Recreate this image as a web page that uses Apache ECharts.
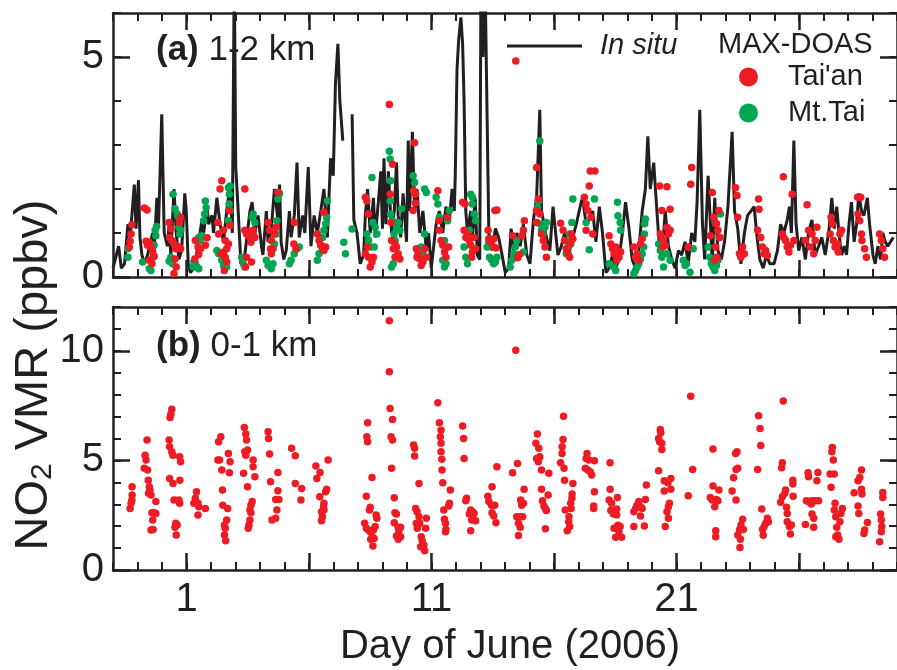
<!DOCTYPE html>
<html><head><meta charset="utf-8">
<script src="https://cdn.jsdelivr.net/npm/echarts@6/dist/echarts.min.js"></script>
<style>html,body{margin:0;padding:0;background:#fff}#c{width:897px;height:670px}</style>
</head><body><div id="c"></div><script>
// ---- tick labels / categories ----
const xTickLabels = [1, 11, 21];
const xMajorTicks = [1, 6, 11, 16, 21, 26];
const yTicksA = [0, 5];
const yTicksB = [0, 5, 10];

// ---- In situ NO2 (panel a), [day of June, ppbv] ----
const inSitu = [[-2.00,0.2],[-1.77,0.7],[-1.66,0.2],[-1.53,0.3],[-1.39,1.2],[-1.30,0.9],[-1.13,2.1],[-1.06,1.1],[-0.96,2.2],[-0.90,0.9],[-0.82,0.5],[-0.72,0.3],[-0.59,0.5],[-0.38,1.0],[-0.32,0.6],[-0.21,1.8],[-0.14,1.2],[-0.01,3.7],[0.09,1.0],[0.22,0.7],[0.29,1.2],[0.36,0.5],[0.49,2.0],[0.58,1.0],[0.69,0.4],[0.80,0.6],[0.93,1.9],[0.99,1.5],[1.07,0.3],[1.16,0.1],[1.30,0.2],[1.50,0.8],[1.63,1.3],[1.70,1.0],[1.84,1.6],[1.90,1.2],[2.04,1.4],[2.10,1.0],[2.24,1.8],[2.37,1.2],[2.51,0.8],[2.64,1.5],[2.78,2.1],[2.87,1.0],[2.95,7.0],[3.01,2.5],[3.11,1.5],[3.22,0.3],[3.38,0.5],[3.59,1.5],[3.68,1.7],[3.79,1.0],[3.92,1.4],[4.06,0.7],[4.12,0.5],[4.26,1.5],[4.33,0.8],[4.46,1.1],[4.59,2.0],[4.73,1.3],[4.80,2.1],[4.86,0.8],[4.97,0.4],[5.07,0.6],[5.20,1.5],[5.27,0.9],[5.40,1.4],[5.51,2.6],[5.60,0.9],[5.74,1.4],[5.83,1.0],[5.97,2.5],[6.08,0.7],[6.21,1.4],[6.34,1.0],[6.48,1.5],[6.61,2.0],[6.75,0.9],[6.88,2.7],[6.99,2.3],[7.08,4.4],[7.18,5.3],[7.26,4.0],[7.38,3.1],[7.5,'-'],[7.76,3.7],[7.83,1.3],[7.96,1.0],[8.09,0.3],[8.23,0.5],[8.30,1.4],[8.39,2.0],[8.50,1.0],[8.63,1.8],[8.70,0.9],[8.83,1.7],[8.93,2.4],[9.00,1.1],[9.06,2.7],[9.14,1.2],[9.24,2.4],[9.37,1.0],[9.48,1.5],[9.57,2.6],[9.64,1.4],[9.74,0.9],[9.84,1.9],[9.98,0.8],[10.05,3.1],[10.11,1.5],[10.22,3.3],[10.31,1.5],[10.41,2.0],[10.52,1.0],[10.65,1.5],[10.79,0.6],[10.88,1.0],[10.99,0.2],[11.06,0.2],[11.19,1.2],[11.32,1.5],[11.46,1.0],[11.59,1.6],[11.73,1.3],[11.84,2.0],[11.93,1.5],[11.97,2.3],[12.04,4.7],[12.11,5.4],[12.20,5.9],[12.27,5.3],[12.33,4.0],[12.40,1.5],[12.47,1.0],[12.60,1.5],[12.67,0.9],[12.78,1.8],[12.87,0.5],[12.97,0.4],[13.02,7.0],[13.10,5.0],[13.18,7.0],[13.34,1.0],[13.47,0.6],[13.61,1.1],[13.74,0.9],[13.88,0.5],[14.01,0.1],[14.15,0.2],[14.25,1.1],[14.35,0.6],[14.48,1.0],[14.62,0.7],[14.75,1.2],[14.89,0.5],[15.02,0.3],[15.16,1.3],[15.29,1.8],[15.42,3.8],[15.49,1.5],[15.56,1.3],[15.69,0.9],[15.83,0.6],[15.96,1.6],[16.03,1.2],[16.16,0.5],[16.30,0.7],[16.43,1.0],[16.64,0.6],[16.77,0.9],[16.91,1.2],[17.11,1.7],[17.17,1.8],[17.31,1.2],[17.44,1.3],[17.58,1.5],[17.71,0.8],[17.85,1.6],[17.98,1.0],[18.12,0.1],[18.25,0.2],[18.39,0.5],[18.52,0.2],[18.65,0.4],[18.79,1.0],[18.92,1.7],[19.06,1.1],[19.19,0.4],[19.33,0.2],[19.46,0.6],[19.60,1.5],[19.73,2.0],[19.83,3.2],[19.93,2.0],[20.07,2.6],[20.20,1.5],[20.31,0.6],[20.40,0.4],[20.54,1.5],[20.67,0.7],[20.81,0.4],[20.94,0.2],[21.08,0.6],[21.21,0.5],[21.35,0.8],[21.48,0.3],[21.62,1.0],[21.75,0.8],[21.84,1.7],[21.95,3.8],[22.06,1.2],[22.15,0.4],[22.29,2.3],[22.36,1.5],[22.46,0.3],[22.56,1.8],[22.69,0.6],[22.83,0.4],[22.96,0.8],[23.10,1.6],[23.27,3.3],[23.37,1.5],[23.50,1.1],[23.63,0.3],[23.77,1.0],[23.90,1.4],[24.04,1.5],[24.17,1.6],[24.27,1.0],[24.40,0.4],[24.54,0.2],[24.67,0.5],[24.81,0.3],[24.98,0.3],[25.12,0.6],[25.25,1.2],[25.38,1.0],[25.52,1.3],[25.61,1.6],[25.69,1.0],[25.79,3.1],[25.88,1.2],[25.99,0.6],[26.12,0.9],[26.26,0.4],[26.39,1.0],[26.53,1.3],[26.66,0.5],[26.80,0.7],[26.93,0.9],[27.07,0.5],[27.23,1.1],[27.34,1.8],[27.44,1.1],[27.54,1.6],[27.63,1.0],[27.74,0.5],[27.85,0.7],[27.94,0.5],[28.04,1.2],[28.14,1.7],[28.25,0.8],[28.35,1.2],[28.44,1.9],[28.55,1.5],[28.65,1.4],[28.79,1.8],[28.88,1.2],[29.02,0.5],[29.11,0.3],[29.22,0.7],[29.33,0.4],[29.42,1.0],[29.52,0.8],[29.62,0.7],[29.85,0.9]];

// ---- MAX-DOAS Tai'an, 1-2 km (panel a) ----
const taianA = [[-1.23,1.19],[-1.26,0.98],[-1.30,0.81],[-1.33,0.68],[-0.72,1.57],[-0.61,1.52],[-0.65,0.81],[-0.52,0.79],[-0.59,0.72],[-0.45,0.68],[-0.38,0.57],[-0.32,0.47],[-0.52,0.38],[-0.41,0.30],[-0.36,0.45],[0.29,1.24],[0.36,1.09],[0.31,0.90],[0.40,0.83],[0.49,0.75],[0.56,0.64],[0.69,0.68],[0.76,0.64],[0.72,1.24],[0.76,1.36],[0.53,0.41],[0.58,0.23],[0.49,0.08],[1.36,0.83],[1.47,0.68],[1.57,0.64],[1.50,0.51],[1.34,0.41],[1.77,0.72],[1.84,0.89],[2.28,1.24],[2.37,2.00],[2.44,2.19],[2.51,1.06],[2.58,0.83],[2.64,0.64],[2.51,0.57],[2.58,0.45],[2.64,0.34],[2.71,0.75],[2.78,1.17],[2.74,1.51],[2.41,0.53],[2.31,0.98],[2.54,0.15],[3.38,2.00],[3.38,1.06],[3.45,0.98],[3.52,1.02],[3.59,0.90],[3.65,0.98],[3.72,1.06],[3.79,0.90],[3.63,0.79],[3.45,0.45],[3.65,0.34],[3.41,0.23],[4.33,1.24],[4.39,1.06],[4.46,0.83],[4.53,0.64],[4.59,0.98],[4.66,1.13],[4.73,1.92],[4.43,0.64],[4.46,0.53],[5.40,1.24],[5.47,0.64],[5.38,0.75],[6.34,0.98],[6.41,0.83],[6.48,0.72],[6.55,0.64],[6.61,1.47],[6.68,0.68],[6.61,0.60],[8.30,1.81],[8.36,1.73],[8.43,1.43],[8.30,0.53],[8.43,0.45],[8.57,0.41],[8.63,0.45],[8.50,0.23],[8.39,0.68],[8.57,0.34],[9.28,3.92],[9.41,2.56],[9.31,1.88],[9.35,1.24],[9.37,0.83],[9.44,0.64],[9.51,0.45],[9.57,0.68],[9.64,0.53],[9.71,0.41],[9.51,0.75],[10.31,3.05],[10.27,1.96],[10.35,1.88],[10.35,1.68],[10.25,1.51],[10.38,0.64],[10.45,0.53],[10.52,0.41],[10.58,0.26],[10.65,0.34],[10.72,0.64],[10.79,0.45],[10.41,0.45],[11.26,1.96],[11.30,1.28],[11.32,1.06],[11.39,0.83],[11.46,0.72],[11.53,0.57],[11.59,0.45],[11.66,1.36],[11.70,0.68],[12.27,1.70],[12.37,1.66],[12.33,1.06],[12.40,0.90],[12.47,0.98],[12.54,0.83],[12.60,0.72],[12.67,0.57],[12.74,0.90],[12.64,0.45],[12.80,0.64],[13.59,1.51],[13.55,0.87],[14.44,4.91],[13.31,1.06],[13.34,0.87],[13.41,0.79],[13.54,0.68],[13.63,0.66],[13.67,1.52],[14.31,0.94],[14.52,0.44],[14.59,0.51],[14.68,0.94],[14.75,1.06],[14.79,1.28],[15.29,2.49],[15.29,1.51],[15.36,1.77],[15.42,1.43],[15.49,0.98],[15.56,0.83],[15.63,0.68],[15.69,0.45],[15.29,1.24],[16.27,1.22],[16.37,1.06],[16.43,0.83],[16.50,0.64],[16.57,0.53],[16.64,0.45],[16.70,0.98],[16.77,0.87],[16.68,0.75],[17.24,1.81],[17.31,1.66],[17.38,1.51],[17.44,2.07],[17.48,2.41],[17.51,1.36],[17.58,0.98],[17.67,2.41],[17.31,1.06],[18.25,0.94],[18.32,0.75],[18.39,0.64],[18.45,0.53],[18.52,0.68],[18.59,0.60],[18.65,0.45],[18.72,0.57],[18.56,0.38],[19.26,0.68],[19.33,0.45],[19.39,0.53],[19.46,0.38],[19.53,0.75],[19.60,0.87],[20.31,2.07],[20.61,2.05],[20.40,1.51],[20.74,1.54],[20.34,0.98],[20.40,0.90],[20.47,0.83],[20.54,0.72],[20.61,1.13],[20.67,0.98],[20.74,1.06],[20.44,0.68],[21.62,2.49],[21.58,2.11],[21.48,0.68],[22.38,0.94],[22.46,1.92],[22.52,1.36],[22.63,1.21],[22.69,1.06],[22.76,0.90],[22.60,0.68],[22.65,0.45],[22.73,1.51],[22.56,0.38],[23.41,2.03],[23.47,1.85],[23.50,1.36],[23.57,0.53],[23.63,0.45],[23.70,0.68],[23.77,0.53],[24.35,1.77],[24.37,1.54],[24.31,1.06],[24.44,0.90],[24.51,0.68],[24.58,0.53],[24.64,0.60],[24.71,0.49],[25.36,2.28],[25.72,1.88],[25.32,0.98],[25.38,0.90],[25.45,0.83],[25.52,0.68],[25.59,0.57],[25.65,0.72],[25.79,0.83],[26.33,1.64],[26.26,0.83],[26.39,1.06],[26.46,0.68],[26.53,0.98],[26.60,0.53],[26.66,0.83],[26.73,1.13],[27.31,1.36],[27.36,1.21],[27.27,0.98],[27.40,0.83],[27.47,0.68],[27.60,0.57],[27.67,0.98],[27.74,1.06],[27.58,0.75],[28.39,1.81],[28.52,1.81],[28.41,1.43],[28.48,1.28],[28.55,0.98],[28.68,0.64],[28.75,0.45],[28.57,0.83],[29.29,0.98],[29.36,0.83],[29.42,0.64],[29.49,0.45]];

// ---- MAX-DOAS Mt.Tai, 1-2 km (panel a) ----
const mtTaiA = [[-1.39,0.64],[-1.39,0.45],[-0.79,0.34],[-0.52,0.19],[-0.45,0.15],[-0.32,0.72],[-0.25,0.94],[-0.28,1.06],[-0.22,1.15],[0.45,1.88],[0.53,1.55],[0.62,1.43],[0.66,1.37],[0.36,0.45],[0.29,0.36],[0.43,0.30],[0.72,0.98],[0.76,1.06],[0.69,1.13],[1.27,0.23],[1.36,0.30],[1.43,0.23],[1.50,0.19],[1.50,0.90],[1.57,0.83],[1.63,0.94],[1.70,1.28],[1.74,1.43],[1.77,1.73],[1.80,1.58],[1.30,0.34],[2.24,0.60],[2.31,0.53],[2.44,0.38],[2.51,0.26],[2.64,0.23],[2.71,2.03],[2.78,2.07],[2.75,1.88],[2.74,1.66],[2.71,1.28],[2.78,1.51],[3.25,0.45],[3.32,0.30],[3.38,0.23],[3.68,1.36],[3.72,1.43],[3.79,1.24],[3.72,0.98],[4.26,0.38],[4.33,0.26],[4.46,0.19],[4.53,0.30],[4.59,0.75],[4.66,0.98],[4.69,1.28],[4.73,1.77],[4.80,1.90],[5.20,0.30],[5.27,0.38],[5.40,0.53],[5.51,0.64],[5.60,0.68],[6.34,0.38],[6.41,0.53],[6.48,0.72],[6.55,0.90],[6.61,1.06],[6.68,1.21],[6.72,1.36],[6.75,1.73],[7.42,0.79],[7.49,0.53],[7.76,1.09],[8.36,0.98],[8.43,0.83],[8.50,0.68],[8.57,2.26],[8.61,1.24],[8.70,1.13],[8.77,0.98],[8.66,0.68],[9.28,2.86],[9.31,2.68],[9.33,2.19],[9.31,1.73],[9.33,1.43],[9.41,1.28],[9.47,0.98],[9.51,0.83],[9.37,0.23],[9.44,0.30],[9.57,1.13],[9.64,1.24],[9.71,1.06],[9.78,1.55],[10.25,2.30],[10.31,2.15],[10.72,2.00],[10.79,1.92],[10.72,0.98],[10.58,0.68],[10.65,0.53],[11.19,1.81],[11.26,1.66],[11.32,1.36],[11.53,0.83],[11.66,1.28],[11.73,1.51],[11.46,0.38],[11.53,0.23],[11.59,0.30],[12.33,0.68],[12.40,0.45],[12.47,0.30],[12.54,1.06],[12.60,1.88],[12.67,1.81],[12.67,1.66],[12.74,1.43],[12.80,1.28],[13.27,0.68],[13.37,0.45],[13.45,0.39],[13.54,0.30],[13.61,0.34],[13.67,0.45],[13.34,0.79],[14.21,0.23],[14.28,0.38],[14.35,0.53],[14.42,0.68],[14.48,0.83],[14.75,0.57],[15.42,3.09],[15.36,1.73],[15.33,1.58],[15.42,1.21],[15.49,1.06],[15.56,0.98],[15.63,1.13],[15.69,1.24],[16.77,1.77],[16.73,1.24],[16.64,0.98],[16.70,0.83],[16.57,0.68],[16.50,0.53],[17.65,1.77],[17.31,1.24],[17.44,0.62],[18.59,1.70],[18.61,1.39],[18.70,1.24],[18.72,1.06],[18.25,0.30],[18.52,0.15],[18.45,0.23],[19.26,0.08],[19.33,0.15],[19.39,0.23],[19.46,0.30],[19.53,0.41],[19.60,0.53],[19.66,0.68],[19.69,0.98],[19.70,1.21],[19.73,1.32],[20.27,0.75],[20.34,0.60],[20.40,0.45],[20.47,0.23],[20.61,0.53],[20.74,0.38],[21.28,0.38],[21.35,0.26],[21.41,0.30],[21.55,0.11],[21.68,0.64],[22.29,0.68],[22.36,0.45],[22.42,0.30],[22.49,0.23],[22.56,0.15],[22.63,0.26],[22.69,0.38],[22.79,1.43],[22.76,0.90]];

// ---- MAX-DOAS Tai'an, 0-1 km (panel b) ----
const taianB = [[-1.30,2.81],[-1.26,3.04],[-1.23,3.19],[-1.22,3.42],[-1.22,3.80],[-0.61,5.93],[-0.69,5.24],[-0.65,5.02],[-0.72,4.64],[-0.59,4.56],[-0.56,4.10],[-0.52,3.80],[-0.49,3.65],[-0.55,3.50],[-0.45,3.42],[-0.25,3.12],[-0.41,2.61],[-0.32,2.61],[-0.38,2.28],[-0.25,2.58],[-0.45,1.82],[-0.36,1.85],[0.40,7.33],[0.36,7.11],[0.33,6.96],[0.29,5.93],[0.31,5.62],[0.40,5.40],[0.45,5.24],[0.72,5.17],[0.76,4.94],[0.73,4.10],[0.31,4.18],[0.45,3.95],[0.49,3.19],[0.69,3.19],[0.72,3.04],[0.56,2.13],[0.62,2.05],[0.53,1.95],[0.58,1.60],[1.41,3.57],[1.36,3.27],[1.30,3.04],[1.47,3.04],[1.50,2.89],[1.47,2.51],[1.77,2.81],[2.31,5.85],[2.40,6.08],[2.28,5.02],[2.35,5.02],[2.44,4.56],[2.71,5.32],[2.78,4.94],[2.75,4.44],[2.47,3.65],[2.48,2.96],[2.68,2.81],[2.64,2.28],[2.55,2.05],[2.58,1.90],[2.55,1.60],[2.60,1.34],[3.36,6.50],[3.42,6.20],[3.45,5.93],[3.38,5.40],[3.42,5.24],[3.49,5.47],[3.33,4.41],[3.49,3.80],[3.72,5.02],[3.72,4.71],[3.79,4.26],[3.68,3.12],[3.63,2.96],[3.59,2.74],[3.63,2.61],[3.59,2.28],[3.55,2.05],[3.52,1.90],[4.33,6.31],[4.35,6.00],[4.39,5.29],[4.43,4.03],[4.73,4.45],[4.73,3.62],[4.64,3.22],[4.77,3.22],[4.69,2.74],[4.64,2.36],[4.49,2.28],[5.29,5.55],[5.44,5.21],[5.44,3.95],[5.70,3.72],[5.67,3.19],[6.28,4.74],[6.45,4.45],[6.32,4.18],[6.78,5.02],[6.72,3.68],[6.68,3.57],[6.44,3.34],[6.61,3.04],[6.59,2.89],[6.61,2.74],[6.51,2.66],[6.55,2.43],[6.51,2.25],[8.39,6.72],[8.36,6.08],[8.39,5.85],[8.57,4.22],[8.34,3.37],[8.50,2.86],[8.47,2.74],[8.27,2.13],[8.34,1.90],[8.43,1.82],[8.50,1.75],[8.58,1.52],[8.63,1.82],[8.77,2.36],[8.74,2.51],[8.70,1.98],[8.61,1.09],[8.66,1.44],[8.52,1.40],[9.28,11.37],[9.28,9.04],[9.31,7.37],[9.41,6.87],[9.35,6.08],[9.41,5.93],[9.37,4.64],[9.48,3.30],[9.51,2.61],[9.57,2.55],[9.48,2.16],[9.64,1.95],[9.74,1.95],[9.67,1.79],[9.57,1.55],[9.64,1.40],[9.74,1.52],[10.27,5.70],[10.31,5.55],[10.31,5.20],[10.49,3.95],[10.35,2.81],[10.41,2.66],[10.49,2.43],[10.38,2.13],[10.42,1.90],[10.52,2.13],[10.79,2.36],[10.76,1.90],[10.58,1.52],[10.62,1.34],[10.69,1.14],[10.72,0.88],[10.56,1.06],[11.26,7.63],[11.32,6.72],[11.39,6.38],[11.36,6.08],[11.39,5.78],[11.39,5.40],[11.42,5.05],[11.43,4.56],[11.46,3.98],[11.77,3.65],[11.73,3.04],[11.70,2.92],[11.50,2.74],[11.53,2.31],[11.57,2.13],[11.59,1.85],[11.57,1.75],[12.27,6.57],[12.31,6.00],[12.33,5.09],[12.43,3.27],[12.40,3.16],[12.60,2.74],[12.67,2.66],[12.54,2.55],[12.74,2.58],[12.64,2.28],[12.80,2.25],[12.60,1.79],[13.67,4.71],[13.47,3.80],[13.30,3.37],[13.34,3.12],[13.45,2.96],[13.58,2.96],[13.47,2.61],[13.54,2.46],[13.63,2.16],[14.44,10.03],[14.31,4.44],[14.51,4.86],[14.78,3.68],[14.64,3.19],[14.68,2.96],[14.75,3.04],[14.48,2.43],[14.59,2.43],[14.72,2.43],[14.55,2.13],[14.62,1.95],[14.55,1.57],[15.32,6.20],[15.26,5.78],[15.38,5.55],[15.42,5.17],[15.29,5.09],[15.36,4.94],[15.49,4.56],[15.49,3.68],[15.79,4.41],[15.53,3.16],[15.59,2.92],[15.65,2.81],[15.69,2.71],[15.76,3.42],[15.65,1.88],[16.39,7.02],[16.37,5.96],[16.33,5.62],[16.33,5.32],[16.27,4.89],[16.41,4.64],[16.43,4.10],[16.77,3.95],[16.74,3.47],[16.73,3.27],[16.68,3.04],[16.70,2.81],[16.46,2.74],[16.61,2.43],[16.60,2.20],[16.64,1.98],[16.54,1.79],[17.35,5.32],[17.31,5.09],[17.42,5.02],[17.65,4.98],[17.28,4.64],[17.38,4.56],[17.48,4.48],[17.54,4.33],[17.65,3.57],[17.62,2.92],[17.62,2.81],[18.29,4.89],[18.29,3.68],[18.25,3.19],[18.35,3.04],[18.59,3.31],[18.32,2.71],[18.43,2.55],[18.56,2.78],[18.56,2.51],[18.45,1.90],[18.61,2.04],[18.70,1.98],[18.52,1.49],[18.76,1.49],[18.65,1.75],[19.77,3.88],[19.73,3.22],[19.46,3.12],[19.39,2.96],[19.33,2.81],[19.53,2.89],[19.60,2.81],[19.26,2.66],[19.53,2.46],[19.26,1.98],[19.69,2.01],[20.34,6.41],[20.36,6.26],[20.27,6.00],[20.31,5.85],[20.40,5.78],[20.40,5.50],[20.27,4.53],[20.50,4.07],[20.65,3.98],[20.77,4.18],[20.50,3.60],[20.77,3.68],[20.71,3.04],[20.67,2.89],[20.61,2.66],[20.67,2.36],[20.54,1.98],[21.58,7.93],[21.66,4.59],[21.48,3.39],[22.49,5.52],[22.49,3.83],[22.73,3.65],[22.38,3.31],[22.63,3.22],[22.46,3.19],[22.69,3.16],[22.56,2.89],[22.60,1.79],[22.60,1.52],[23.47,5.40],[23.41,5.32],[23.43,4.59],[23.50,4.64],[23.33,4.21],[23.27,3.60],[23.43,3.19],[23.70,2.31],[23.63,2.05],[23.57,1.82],[23.50,1.60],[23.61,1.40],[23.59,1.03],[23.73,1.85],[24.35,7.04],[24.41,6.46],[24.44,5.68],[24.31,4.59],[24.48,2.78],[24.71,2.36],[24.64,2.13],[24.58,1.98],[24.51,1.85],[24.54,1.58],[24.75,2.20],[25.36,7.71],[25.32,4.89],[25.29,4.67],[25.75,4.10],[25.75,3.92],[25.45,3.65],[25.42,3.50],[25.76,3.37],[25.32,3.34],[25.25,3.09],[25.49,2.86],[25.52,2.58],[25.52,2.20],[25.61,1.98],[25.69,2.05],[25.65,1.64],[26.37,4.44],[26.39,4.26],[26.77,4.45],[26.73,4.07],[26.30,3.16],[26.39,3.12],[26.53,3.16],[26.66,3.16],[26.80,3.16],[26.50,3.01],[26.53,2.55],[26.60,2.36],[26.26,2.08],[26.60,1.95],[27.36,5.59],[27.34,5.40],[27.40,5.02],[27.27,4.38],[27.44,4.38],[27.31,3.77],[27.47,3.04],[27.77,2.81],[27.44,2.74],[27.71,2.58],[27.50,2.43],[27.67,2.20],[27.54,1.95],[27.58,1.60],[27.63,1.40],[27.50,1.52],[28.55,4.56],[28.48,4.22],[28.41,4.07],[28.55,3.68],[28.25,3.53],[28.57,3.47],[28.41,2.92],[28.44,2.58],[28.79,2.17],[28.68,1.82],[28.65,1.67],[29.42,3.54],[29.42,3.31],[29.33,2.55],[29.36,2.28],[29.38,1.98],[29.29,1.29],[29.36,1.75]];

const INK = '#231f20';
const RED = '#ed1c24';
const GREEN = '#00a651';
const FONT = '"Liberation Sans", Arial, Helvetica, sans-serif';

function xAxesFor(grid, withLabels) {
  const base = {type: 'value', gridIndex: grid, min: -2, max: 30, splitLine: {show: false}};
  const minor = pos => Object.assign({}, base, {
    position: pos, interval: 1,
    axisLine: {show: true, onZero: false, lineStyle: {color: INK, width: 2.5}},
    axisTick: {show: true, inside: true, length: 8, lineStyle: {color: INK, width: 2}},
    axisLabel: {show: false}
  });
  const major = (pos, lab) => Object.assign({}, base, {
    position: pos,
    axisLine: {show: false, onZero: false},
    axisTick: {show: true, inside: true, length: 17, customValues: xMajorTicks, lineStyle: {color: INK, width: 2.5}},
    axisLabel: lab ? {show: true, customValues: xTickLabels, fontSize: 40, fontFamily: FONT, color: INK, margin: 10} : {show: false}
  });
  return [minor('bottom'), major('bottom', withLabels), minor('top'), major('top', false)];
}
function yAxesFor(grid, max, majors) {
  const base = {type: 'value', gridIndex: grid, min: 0, max: max, splitLine: {show: false}};
  const minor = pos => Object.assign({}, base, {
    position: pos, interval: 1,
    axisLine: {show: true, onZero: false, lineStyle: {color: INK, width: 2.5}},
    axisTick: {show: true, inside: true, length: 8, lineStyle: {color: INK, width: 2}},
    axisLabel: {show: false}
  });
  const major = (pos, lab) => Object.assign({}, base, {
    position: pos,
    axisLine: {show: false, onZero: false},
    axisTick: {show: true, inside: true, length: 17, customValues: majors, lineStyle: {color: INK, width: 2.5}},
    axisLabel: lab ? {show: true, customValues: majors, fontSize: 40, fontFamily: FONT, color: INK, margin: 9} : {show: false}
  });
  return [minor('left'), major('left', true), minor('right'), major('right', false)];
}

const dot = c => ({color: c, opacity: 1});

const chart = echarts.init(document.getElementById('c'), null, {renderer: 'canvas'});
chart.setOption({
  animation: false,
  backgroundColor: '#fff',
  grid: [
    {left: 113, right: -9, top: 13, height: 264},
    {left: 113, right: -9, top: 307, height: 263}
  ],
  xAxis: xAxesFor(0, false).concat(xAxesFor(1, true)),
  yAxis: yAxesFor(0, 6, yTicksA).concat(yAxesFor(1, 12, yTicksB)),
  legend: [
    {data: ['In situ'], left: 507, top: 31, padding: 0, icon: 'rect', itemWidth: 75, itemHeight: 3, selectedMode: false,
     textStyle: {fontSize: 29, fontStyle: 'italic', fontFamily: FONT, color: INK, lineHeight: 30, padding: [0, 0, 0, 13]}},
    {data: ["Tai'an", 'Mt.Tai'], orient: 'vertical', left: 739, top: 62, padding: 0, icon: 'circle', itemWidth: 19, itemHeight: 19, itemGap: 6, selectedMode: false,
     itemStyle: {opacity: 1},
     textStyle: {fontSize: 29, fontFamily: FONT, color: INK, lineHeight: 30, padding: [0, 0, 0, 25]}}
  ],
  series: [
    {name: 'In situ', type: 'line', xAxisIndex: 0, yAxisIndex: 0, data: inSitu, showSymbol: false, symbol: 'none',
     connectNulls: false, clip: true, color: INK, lineStyle: {color: INK, width: 3}, z: 2},
    {name: 'Mt.Tai', type: 'scatter', xAxisIndex: 0, yAxisIndex: 0, data: mtTaiA, symbolSize: 7.5, color: GREEN, itemStyle: dot(GREEN), z: 3},
    {name: "Tai'an", type: 'scatter', xAxisIndex: 0, yAxisIndex: 0, data: taianA, symbolSize: 7.5, color: RED, itemStyle: dot(RED), z: 4},
    {name: "Tai'an", type: 'scatter', xAxisIndex: 4, yAxisIndex: 4, data: taianB, symbolSize: 7.5, color: RED, itemStyle: dot(RED), z: 4}
  ],
  graphic: [
    {type: 'text', x: 718, y: 45, style: {text: 'MAX-DOAS', fontSize: 29, fontFamily: FONT, fill: INK, align: 'left', verticalAlign: 'middle'}},
    {type: 'text', x: 156, y: 50, style: {text: '{b|(a)} 1-2 km', fontSize: 35, fontFamily: FONT, fill: INK, align: 'left', verticalAlign: 'middle',
      rich: {b: {fontSize: 35, fontFamily: FONT, fontWeight: 'bold', fill: INK}}}},
    {type: 'text', x: 156, y: 346, style: {text: '{b|(b)} 0-1 km', fontSize: 35, fontFamily: FONT, fill: INK, align: 'left', verticalAlign: 'middle',
      rich: {b: {fontSize: 35, fontFamily: FONT, fontWeight: 'bold', fill: INK}}}},
    {type: 'text', x: 510, y: 647, style: {text: 'Day of June (2006)', fontSize: 40, fontFamily: FONT, fill: INK, align: 'center', verticalAlign: 'middle'}},
    {type: 'text', x: 34, y: 375, rotation: Math.PI / 2, style: {text: 'NO{s|2} VMR (ppbv)', fontSize: 47, fontFamily: FONT, fill: INK, align: 'center', verticalAlign: 'middle',
      rich: {s: {fontSize: 30, fontFamily: FONT, fill: INK, padding: [17, 0, 0, 0]}}}}
  ]
});
</script></body></html>
